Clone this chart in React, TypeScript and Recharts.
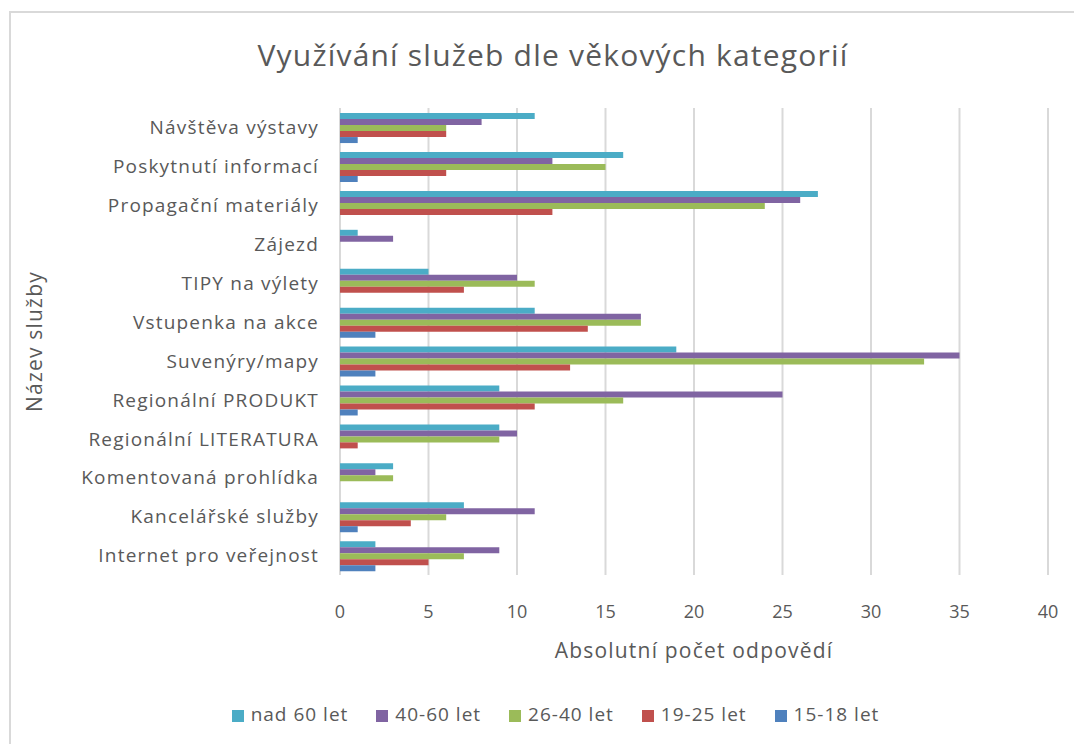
import { BarChart, Bar, XAxis, YAxis, CartesianGrid, Legend, Label } from 'recharts'

const categories = [
  'Návštěva výstavy',
  'Poskytnutí informací',
  'Propagační materiály',
  'Zájezd',
  'TIPY na výlety',
  'Vstupenka na akce',
  'Suvenýry/mapy',
  'Regionální PRODUKT',
  'Regionální LITERATURA',
  'Komentovaná prohlídka',
  'Kancelářské služby',
  'Internet pro veřejnost',
]

const nad60 = [11, 16, 27, 1, 5, 11, 19, 9, 9, 3, 7, 2]
const age4060 = [8, 12, 26, 3, 10, 17, 35, 25, 10, 2, 11, 9]
const age2640 = [6, 15, 24, 0, 11, 17, 33, 16, 9, 3, 6, 7]
const age1925 = [6, 6, 12, 0, 7, 14, 13, 11, 1, 0, 4, 5]
const age1518 = [1, 1, 0, 0, 0, 2, 2, 1, 0, 0, 1, 2]

const xTicks = [0, 5, 10, 15, 20, 25, 30, 35, 40]
const seriesNames = ['nad 60 let', '40-60 let', '26-40 let', '19-25 let', '15-18 let']

const data = categories.map((name, i) => ({
  name,
  nad60: nad60[i],
  a4060: age4060[i],
  a2640: age2640[i],
  a1925: age1925[i],
  a1518: age1518[i],
}))

const font = 'Open Sans, sans-serif'
const gray = '#595959'

const css = `
.recharts-cartesian-axis-tick text[text-anchor="middle"] { letter-spacing: 1px; }
.recharts-label { letter-spacing: 1.2px; }
`

function CategoryTick(props: any) {
  const { x, y, payload } = props
  return (
    <text
      x={x}
      y={y}
      dy="0.355em"
      textAnchor="end"
      fill={gray}
      fontSize={19}
      fontFamily={font}
      style={{ letterSpacing: '1.2px' }}
    >
      {payload.value}
    </text>
  )
}

export default function App() {
  return (
    <div
      style={{
        position: 'fixed',
        left: 0,
        top: 0,
        width: 1074,
        height: 744,
        overflow: 'hidden',
        background: '#fff',
        fontFamily: font,
      }}
    >
      <style>{css}</style>
      <div
        style={{
          position: 'absolute',
          left: 9,
          top: 11,
          width: 1088,
          height: 744,
          boxSizing: 'border-box',
          borderLeft: '2px solid #d9d9d9',
          borderTop: '2px solid #d9d9d9',
        }}
      />
      <div
        style={{
          position: 'absolute',
          top: 34,
          left: 9,
          width: 1088,
          textAlign: 'center',
          fontSize: 30,
          letterSpacing: 1.2,
          color: gray,
        }}
      >
        Využívání služeb dle věkových kategorií
      </div>
      <div style={{ position: 'absolute', left: 9, top: 11 }}>
        <BarChart
          width={1088}
          height={744}
          data={data}
          layout="vertical"
          margin={{ top: 97, right: 49, left: 0, bottom: 28 }}
          barCategoryGap="13%"
          barGap={0}
        >
          <CartesianGrid horizontal={false} stroke="#d9d9d9" strokeWidth={2} />
          <XAxis
            type="number"
            domain={[0, 40]}
            ticks={xTicks}
            axisLine={false}
            tickLine={false}
            tick={{ fill: gray, fontSize: 18, fontFamily: font }}
            tickMargin={24}
            height={126}
          >
            <Label
              value="Absolutní počet odpovědí"
              position="insideBottom"
              offset={43}
              style={{ fill: gray, fontSize: 21, fontFamily: font }}
            />
          </XAxis>
          <YAxis
            type="category"
            dataKey="name"
            width={331}
            axisLine={false}
            tickLine={false}
            tick={<CategoryTick />}
            tickMargin={15}
          >
            <Label
              value="Název služby"
              angle={-90}
              position="insideLeft"
              offset={26}
              style={{ fill: gray, fontSize: 21, fontFamily: font, textAnchor: 'middle' }}
            />
          </YAxis>
          <Legend
            verticalAlign="bottom"
            iconType="square"
            iconSize={12}
            itemSorter={(item: any) => seriesNames.indexOf(item.value)}
            wrapperStyle={{ left: 41, fontSize: 19, fontFamily: font, color: gray, letterSpacing: 1 }}
            formatter={(v) => (
              <span style={{ color: gray, marginLeft: 3, marginRight: 18 }}>{v}</span>
            )}
          />
          <Bar dataKey="nad60" name={seriesNames[0]} fill="#4BACC6" isAnimationActive={false} />
          <Bar dataKey="a4060" name={seriesNames[1]} fill="#8064A2" isAnimationActive={false} />
          <Bar dataKey="a2640" name={seriesNames[2]} fill="#9BBB59" isAnimationActive={false} />
          <Bar dataKey="a1925" name={seriesNames[3]} fill="#C0504D" isAnimationActive={false} />
          <Bar dataKey="a1518" name={seriesNames[4]} fill="#4F81BD" isAnimationActive={false} />
        </BarChart>
      </div>
    </div>
  )
}
